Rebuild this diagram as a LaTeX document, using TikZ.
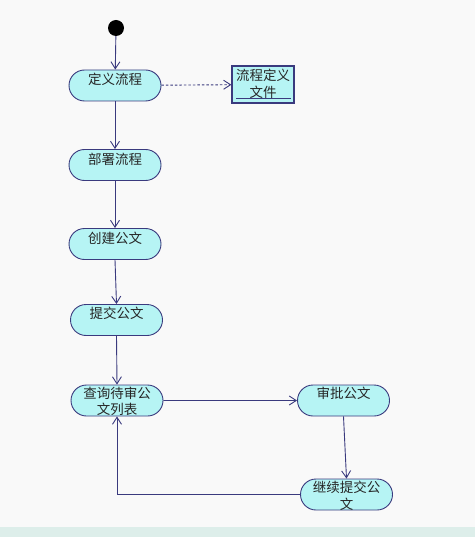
\documentclass[tikz,border=0pt]{standalone}
\usepackage{fontspec}
\newfontfamily\cjk{Noto Sans CJK SC}
\usetikzlibrary{arrows.meta,shapes.misc}
\definecolor{bg}{HTML}{F9F9F9}
\definecolor{strip}{HTML}{DDEEEA}
\definecolor{actfill}{HTML}{B6F4F4}
\definecolor{edge}{HTML}{3A3A7E}
\tikzset{
  act/.style={rounded rectangle, draw=edge, line width=0.9pt, fill=actfill, minimum width=92pt, minimum height=31pt, inner sep=0pt},
  lbl/.style={font=\cjk\fontsize{13.5}{16.5}\selectfont, align=center, inner sep=0pt, text=black!85},
  flow/.style={draw=edge, line width=0.9pt, -{Straight Barb[length=7pt,width=9pt]}},
}
\begin{document}
\begin{tikzpicture}[x=1pt,y=-1pt]
\useasboundingbox (0,0) rectangle (475,537);
\fill[bg] (0,0) rectangle (475,537);
\fill[strip] (0,527) rectangle (475,537);

\node[circle, fill=black, minimum size=16pt, inner sep=0pt] (start) at (116,28) {};

\node[act] (n1) at (115,85.5) {};
\node[lbl] (t1) at (115,79) {定义流程};

\node[draw=edge, line width=1.2pt, fill=actfill, minimum width=62pt, minimum height=37pt, inner sep=0pt] (doc) at (263,84.5) {};
\node[lbl] (td) at (263,84) {流程定义\\文件};
\coordinate (ul) at (236,98);
\coordinate (ur) at (291,98);
\draw[edge, line width=0.8pt] (ul) -- (ur);

\node[act] (n2) at (115,165) {};
\node[lbl] (t2) at (115,159) {部署流程};

\node[act] (n3) at (115,244) {};
\node[lbl] (t3) at (115,238) {创建公文};

\node[act] (n4) at (116.5,320) {};
\node[lbl] (t4) at (116.5,313.5) {提交公文};

\node[act] (n5) at (117,400.5) {};
\node[lbl] (t5) at (117,401.5) {查询待审公\\文列表};

\node[act] (n6) at (343.5,400.5) {};
\node[lbl] (t6) at (343.5,393.5) {审批公文};

\node[act] (n7) at (346.5,494.5) {};
\node[lbl] (t7) at (346.5,496) {继续提交公\\文};

\draw[flow] (start) -- (n1);
\draw[flow, dashed, dash pattern=on 2.5pt off 2pt] (n1) -- (doc);
\draw[flow] (n1) -- (n2);
\draw[flow] (n2) -- (n3);
\draw[flow] (n3.south) -- (n4.north);
\draw[flow] (n4.south) -- (n5.north);
\draw[flow] (n5) -- (n6);
\draw[flow] (n6.south) -- (n7.north);
\draw[flow] (n7.west) -| (n5.south);
\end{tikzpicture}
\end{document}
